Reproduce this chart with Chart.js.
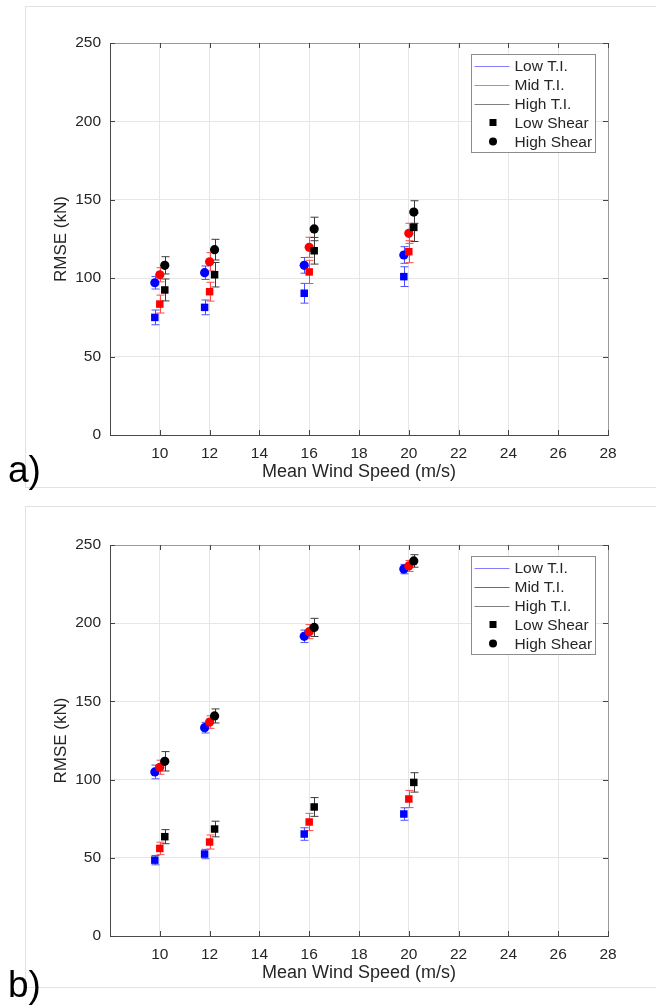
<!DOCTYPE html>
<html>
<head>
<meta charset="utf-8">
<script src="https://cdn.jsdelivr.net/npm/chart.js@4.4.1/dist/chart.umd.min.js"></script>
<style>
  body { margin: 0; background: #fff; }
  .panel { position: absolute; left: 0; width: 656px; }
</style>
</head>
<body>
<div class="panel" style="top:0"><canvas id="chartA" width="656" height="500"></canvas></div>
<div class="panel" style="top:500px"><canvas id="chartB" width="656" height="507"></canvas></div>
<script>
// wind speed groups and axis ticks
const windSpeeds = [10, 12, 16, 20];
const xTickValues = [8, 10, 12, 14, 16, 18, 20, 22, 24, 26, 28];
const yTickValues = [0, 50, 100, 150, 200, 250];
const legendLabels = ['Low T.I.', 'Mid T.I.', 'High T.I.', 'Low Shear', 'High Shear'];

// panel a) RMSE (kN) values and error half-widths
const aLowTiLowShear = [75.0, 81.4, 90.4, 101.0];
const aLowTiLowShearErr = [4.7, 4.7, 6.3, 6.3];
const aLowTiHighShear = [97.1, 103.5, 108.2, 114.8];
const aLowTiHighShearErr = [4.0, 4.3, 5.0, 5.3];
const aMidTiLowShear = [83.5, 91.4, 104.0, 116.9];
const aMidTiLowShearErr = [5.7, 6.0, 7.4, 7.0];
const aMidTiHighShear = [102.2, 110.5, 119.7, 128.6];
const aMidTiHighShearErr = [4.5, 5.8, 6.4, 6.4];
const aHighTiLowShear = [92.5, 102.2, 117.5, 132.4];
const aHighTiLowShearErr = [7.0, 7.8, 8.5, 9.0];
const aHighTiHighShear = [108.2, 118.2, 131.4, 142.2];
const aHighTiHighShearErr = [5.5, 6.6, 7.5, 7.2];

// panel b)
const bLowTiLowShear = [48.5, 52.4, 65.2, 78.0];
const bLowTiLowShearErr = [3.0, 3.0, 4.0, 4.0];
const bLowTiHighShear = [104.9, 133.2, 191.6, 234.6];
const bLowTiHighShearErr = [4.4, 3.4, 4.0, 3.0];
const bMidTiLowShear = [56.0, 60.1, 72.9, 87.6];
const bMidTiLowShearErr = [4.0, 4.5, 5.5, 5.5];
const bMidTiHighShear = [107.9, 136.8, 194.6, 236.6];
const bMidTiHighShearErr = [4.5, 4.0, 4.5, 3.5];
const bHighTiLowShear = [63.5, 68.4, 82.5, 98.2];
const bHighTiLowShearErr = [4.5, 5.0, 6.0, 6.2];
const bHighTiHighShear = [111.7, 140.7, 197.3, 239.8];
const bHighTiHighShearErr = [6.2, 4.5, 5.8, 4.0];

const FONT = '"Liberation Sans", Arial, Helvetica, sans-serif';
const TEXT = '#262626';

// T.I. level styles; small x shift so the groups don't overlap
const tiStyles = [
  { shift: -0.2, marker: '#0000ff', bar: '#5050ff', order: 3 },
  { shift: 0.0, marker: '#ff0000', bar: '#ff4a4a', order: 2 },
  { shift: 0.2, marker: '#000000', bar: '#3a3a3a', order: 1 }
];

function series(values, errs, ti, pointStyle) {
  const st = tiStyles[ti];
  return {
    data: values.map((v, i) => ({ x: windSpeeds[i] + st.shift, y: v })),
    errors: errs,
    errColor: st.bar,
    order: st.order,
    pointStyle: pointStyle,
    pointRadius: pointStyle === 'circle' ? 4.6 : 5.3,
    backgroundColor: st.marker,
    borderColor: st.marker,
    borderWidth: 0,
    showLine: false
  };
}

const errorBars = {
  id: 'errorBars',
  beforeDatasetsDraw(chart) {
    const ctx = chart.ctx, y = chart.scales.y;
    ctx.save();
    ctx.lineWidth = 1;
    chart.data.datasets.forEach((ds, di) => {
      const meta = chart.getDatasetMeta(di);
      ctx.strokeStyle = ds.errColor;
      meta.data.forEach((pt, i) => {
        const v = ds.data[i].y, e = ds.errors[i];
        const px = Math.round(pt.x) + 0.5;
        const top = y.getPixelForValue(v + e), bot = y.getPixelForValue(v - e);
        ctx.beginPath();
        ctx.moveTo(px, top); ctx.lineTo(px, bot);
        ctx.moveTo(px - 4, top); ctx.lineTo(px + 4, top);
        ctx.moveTo(px - 4, bot); ctx.lineTo(px + 4, bot);
        ctx.stroke();
      });
    });
    ctx.restore();
  }
};

const decorations = {
  id: 'decorations',
  afterDraw(chart, args, opts) {
    const ctx = chart.ctx, a = chart.chartArea;
    const xs = chart.scales.x, ys = chart.scales.y;
    ctx.save();
    // outer light frame
    ctx.strokeStyle = '#e2e2e2';
    ctx.lineWidth = 1;
    ctx.strokeRect(25.5, 6.5, 700, 481);
    // box top/right
    ctx.strokeStyle = '#9a9a9a';
    ctx.beginPath();
    ctx.moveTo(a.left, a.top + 0.5); ctx.lineTo(a.right + 0.5, a.top + 0.5);
    ctx.lineTo(a.right + 0.5, a.bottom);
    ctx.stroke();
    // inward ticks
    ctx.strokeStyle = '#444';
    ctx.beginPath();
    xTickValues.forEach(v => {
      const px = Math.round(xs.getPixelForValue(v)) + 0.5;
      ctx.moveTo(px, a.bottom); ctx.lineTo(px, a.bottom - 5);
      ctx.moveTo(px, a.top); ctx.lineTo(px, a.top + 5);
    });
    yTickValues.forEach(v => {
      const py = Math.round(ys.getPixelForValue(v)) + 0.5;
      ctx.moveTo(a.left, py); ctx.lineTo(a.left + 5, py);
      ctx.moveTo(a.right, py); ctx.lineTo(a.right - 5, py);
    });
    ctx.stroke();

    // legend
    const lx = a.right - 136.5, ly = a.top + 11.5;
    ctx.fillStyle = '#fff';
    ctx.fillRect(lx, ly, 124, 98);
    ctx.strokeStyle = '#8c8c8c';
    ctx.strokeRect(lx, ly, 124, 98);
    ctx.font = '15.5px ' + FONT;
    ctx.textBaseline = 'middle';
    legendLabels.forEach((lab, i) => {
      const ry = ly + 11 + i * 19;
      if (i < 3) {
        ctx.strokeStyle = opts.lineColors[i];
        ctx.beginPath();
        ctx.moveTo(lx + 3, Math.round(ry) + 0.5); ctx.lineTo(lx + 38, Math.round(ry) + 0.5);
        ctx.stroke();
      } else if (i === 3) {
        ctx.fillStyle = '#000';
        ctx.fillRect(lx + 18, ry - 3.5, 7, 7);
      } else {
        ctx.fillStyle = '#000';
        ctx.beginPath();
        ctx.arc(lx + 21.5, ry, 4, 0, Math.PI * 2);
        ctx.fill();
      }
      ctx.fillStyle = TEXT;
      ctx.fillText(lab, lx + 43, ry + 1);
    });

    // panel label
    ctx.fillStyle = '#000';
    ctx.font = '37px ' + FONT;
    ctx.textBaseline = 'alphabetic';
    ctx.fillText(opts.label, 8, opts.labelBaseline);
    ctx.restore();
  }
};

function makeChart(id, panel) {
  const height = document.getElementById(id).height;
  const xHeight = 52;
  return new Chart(document.getElementById(id), {
    type: 'scatter',
    data: { datasets: panel.datasets },
    options: {
      responsive: false,
      animation: false,
      layout: {
        padding: { left: 40, right: 48, top: panel.top, bottom: height - panel.bottom - xHeight }
      },
      plugins: {
        legend: { display: false },
        tooltip: { enabled: false },
        decorations: { label: panel.label, labelBaseline: panel.labelBaseline, lineColors: panel.lineColors }
      },
      scales: {
        x: {
          type: 'linear',
          min: 8, max: 28,
          afterFit: s => { s.height = xHeight; },
          afterBuildTicks: s => { s.ticks = xTickValues.map(v => ({ value: v })); },
          ticks: {
            padding: 9,
            color: TEXT,
            font: { family: FONT, size: 15.5 },
            maxRotation: 0,
            callback: v => (v === 8 ? '' : v)
          },
          grid: { color: '#e6e6e6', drawTicks: false },
          border: { color: '#4a4a4a' },
          title: {
            display: true,
            text: 'Mean Wind Speed (m/s)',
            color: TEXT,
            font: { family: FONT, size: 18 },
            padding: { top: 0, bottom: 4 }
          }
        },
        y: {
          type: 'linear',
          min: 0, max: 250,
          afterFit: s => { s.width = 70; },
          afterBuildTicks: s => { s.ticks = yTickValues.map(v => ({ value: v })); },
          ticks: {
            padding: 9,
            color: TEXT,
            font: { family: FONT, size: 15.5 }
          },
          grid: { color: '#e6e6e6', drawTicks: false },
          border: { color: '#4a4a4a' },
          title: {
            display: true,
            text: 'RMSE (kN)',
            color: TEXT,
            font: { family: FONT, size: 17 },
            padding: { top: 11, bottom: 0 }
          }
        }
      }
    },
    plugins: [errorBars, decorations]
  });
}

makeChart('chartA', {
  top: 43, bottom: 435, label: 'a)', labelBaseline: 482,
  lineColors: ['#8080ff', '#ff7070', '#808080'],
  datasets: [
    series(aLowTiLowShear, aLowTiLowShearErr, 0, 'rect'),
    series(aLowTiHighShear, aLowTiHighShearErr, 0, 'circle'),
    series(aMidTiLowShear, aMidTiLowShearErr, 1, 'rect'),
    series(aMidTiHighShear, aMidTiHighShearErr, 1, 'circle'),
    series(aHighTiLowShear, aHighTiLowShearErr, 2, 'rect'),
    series(aHighTiHighShear, aHighTiHighShearErr, 2, 'circle')
  ]
});

makeChart('chartB', {
  top: 45, bottom: 436, label: 'b)', labelBaseline: 497,
  lineColors: ['#8080ff', '#b05050', '#808080'],
  datasets: [
    series(bLowTiLowShear, bLowTiLowShearErr, 0, 'rect'),
    series(bLowTiHighShear, bLowTiHighShearErr, 0, 'circle'),
    series(bMidTiLowShear, bMidTiLowShearErr, 1, 'rect'),
    series(bMidTiHighShear, bMidTiHighShearErr, 1, 'circle'),
    series(bHighTiLowShear, bHighTiLowShearErr, 2, 'rect'),
    series(bHighTiHighShear, bHighTiHighShearErr, 2, 'circle')
  ]
});
</script>
</body>
</html>
